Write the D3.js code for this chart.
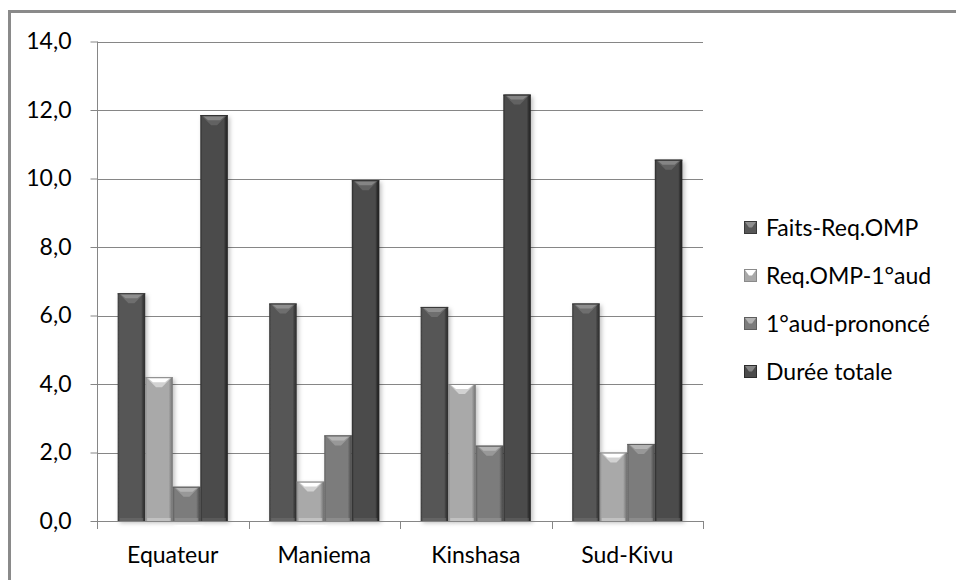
<!DOCTYPE html>
<html>
<head>
<meta charset="utf-8">
<script src="https://cdn.jsdelivr.net/npm/d3@7/dist/d3.min.js"></script>
<style>
  html, body { margin: 0; padding: 0; background: #fff; }
  svg { display: block; }
  text { font-family: Lato, "Open Sans", "Liberation Sans", sans-serif; fill: #000; }
</style>
</head>
<body>
<svg id="chart" width="956" height="580"></svg>
<script>
// Provinces on the x axis
const categories = ["Equateur", "Maniema", "Kinshasa", "Sud-Kivu"];
// Series names (legend order)
const seriesNames = ["Faits-Req.OMP", "Req.OMP-1°aud", "1°aud-prononcé", "Durée totale"];
// Values per series, one per province
const faitsReq   = [6.65, 6.35, 6.25, 6.35];
const reqAud     = [4.2, 1.15, 4.0, 2.0];
const audPron    = [1.0, 2.5, 2.2, 2.25];
const dureeTot   = [11.85, 9.95, 12.45, 10.55];
const seriesValues = [faitsReq, reqAud, audPron, dureeTot];
// Y axis ticks
const yTicks = [0, 2, 4, 6, 8, 10, 12, 14];

// Bevel palette per series: body, edge, top highlight
const palette = [
  { body: "#575757", edge: "#383838", hi: "#8e8e8e", hi2: "#6e6e6e" },
  { body: "#a9a9a9", edge: "#8a8a8a", hi: "#ffffff", hi2: "#d2d2d2" },
  { body: "#7c7c7c", edge: "#5e5e5e", hi: "#b4b4b4", hi2: "#989898" },
  { body: "#4b4b4b", edge: "#2c2c2c", hi: "#858585", hi2: "#626262" }
];

const FONT = "23px";
const svg = d3.select("#chart");
const plotL = 97, plotR = 703, plotT = 41.5, plotB = 521;

// Outer frame of the chart area
svg.append("rect")
  .attr("x", 9.5).attr("y", 11.5)
  .attr("width", 970).attr("height", 600)
  .attr("fill", "none").attr("stroke", "#8a8a8a").attr("stroke-width", 3);

const y = d3.scaleLinear().domain([0, 14]).range([plotB, plotT]);
const x0 = d3.scaleBand().domain(categories).range([plotL, plotR]).paddingInner(0).paddingOuter(0);
// Bars fill 4/(4+1.5) of each category (gap width 150%)
const groupW = x0.bandwidth() * 4 / 5.5;
const x1 = d3.scaleBand().domain(d3.range(4))
  .range([(x0.bandwidth() - groupW) / 2, (x0.bandwidth() + groupW) / 2]);

// Gridlines
svg.append("g").selectAll("line").data(yTicks.filter(d => d > 0)).join("line")
  .attr("x1", plotL).attr("x2", plotR)
  .attr("y1", d => Math.round(y(d)) + 0.5).attr("y2", d => Math.round(y(d)) + 0.5)
  .attr("stroke", "#868686").attr("stroke-width", 1);

// Y axis
const yAxis = d3.axisLeft(y).tickValues(yTicks).tickSize(7).tickPadding(19)
  .tickFormat(d => d3.format(".1f")(d).replace(".", ","));
const gy = svg.append("g").attr("transform", `translate(${plotL + 0.5},0)`).call(yAxis);
gy.select(".domain").attr("stroke", "#868686").attr("d", `M0,${y(14)}V${plotB}`);
gy.selectAll(".tick line").attr("stroke", "#868686");
gy.selectAll(".tick text").style("font-size", FONT).attr("fill", "#000");

// Drop shadow for bars
const defs = svg.append("defs");
const f = defs.append("filter").attr("id", "shadow")
  .attr("x", "-30%").attr("y", "-10%").attr("width", "160%").attr("height", "120%");
f.append("feDropShadow").attr("dx", 2).attr("dy", 2).attr("stdDeviation", 2)
  .attr("flood-color", "#000").attr("flood-opacity", 0.25);

// Horizontal gradient across each bar body (darker at edges)
palette.forEach((p, i) => {
  const g = defs.append("linearGradient").attr("id", "body" + i)
    .attr("x1", "0").attr("x2", "1").attr("y1", "0").attr("y2", "0");
  g.append("stop").attr("offset", "0").attr("stop-color", p.edge);
  g.append("stop").attr("offset", "0.08").attr("stop-color", p.body);
  g.append("stop").attr("offset", "0.85").attr("stop-color", p.body);
  g.append("stop").attr("offset", "0.93").attr("stop-color", p.edge);
  g.append("stop").attr("offset", "1").attr("stop-color", d3.color(p.edge).darker(0.6));
});

// Bars
const rows = [];
categories.forEach((c, ci) => seriesValues.forEach((vals, si) => rows.push({ c, si, v: vals[ci] })));

const bars = svg.append("g").selectAll("g").data(rows).join("g")
  .attr("transform", d => `translate(${x0(d.c) + x1(d.si)},0)`);

bars.append("rect")
  .attr("x", 0).attr("width", x1.bandwidth())
  .attr("y", d => y(d.v)).attr("height", d => plotB - y(d.v))
  .attr("fill", d => `url(#body${d.si})`)
  .attr("filter", "url(#shadow)");

// Top bevel: a light band narrowing into a V
bars.append("path")
  .attr("d", d => {
    const w = x1.bandwidth(), t = y(d.v), h = Math.min(10, plotB - t);
    return `M1,${t}H${w - 1}L${w / 2 + 3},${t + h}H${w / 2 - 3}Z`;
  })
  .attr("fill", d => palette[d.si].hi2);
bars.append("path")
  .attr("d", d => {
    const w = x1.bandwidth(), t = y(d.v), h = Math.min(5, plotB - t);
    return `M3,${t + 1}H${w - 3}L${w / 2 + 6},${t + h}H${w / 2 - 6}Z`;
  })
  .attr("fill", d => palette[d.si].hi);
// Thin dark top edge
bars.append("rect")
  .attr("x", 0).attr("width", x1.bandwidth())
  .attr("y", d => y(d.v)).attr("height", 1)
  .attr("fill", d => palette[d.si].edge);
// Subtle lighter band at the foot
bars.append("rect")
  .attr("x", 2).attr("width", x1.bandwidth() - 4)
  .attr("y", plotB - 3).attr("height", 3)
  .attr("fill", d => palette[d.si].hi2).attr("opacity", 0.6);

// X axis
const xAxis = d3.axisBottom(x0).tickSize(0).tickPadding(26);
const gx = svg.append("g").attr("transform", `translate(0,${plotB})`).call(xAxis);
gx.select(".domain").attr("stroke", "#868686").attr("d", `M${plotL},0.5H${plotR}`);
gx.selectAll(".tick text").style("font-size", FONT).attr("fill", "#000");
// Category separators below the axis
svg.append("g").selectAll("line")
  .data(categories.map(c => x0(c)).concat([plotR])).join("line")
  .attr("x1", d => Math.round(d) + 0.5).attr("x2", d => Math.round(d) + 0.5)
  .attr("y1", plotB).attr("y2", plotB + 8)
  .attr("stroke", "#868686");

// Legend
const legend = svg.append("g").attr("transform", "translate(744,228)");
const items = legend.selectAll("g").data(seriesNames).join("g")
  .attr("transform", (d, i) => `translate(0,${i * 48})`);
items.append("rect").attr("x", 0.5).attr("y", -6.5).attr("width", 12).attr("height", 12)
  .attr("fill", (d, i) => palette[i].body).attr("stroke", (d, i) => palette[i].edge).attr("stroke-width", 1);
items.append("path").attr("d", "M1,-6H12L8,-0.5H5Z").attr("fill", (d, i) => palette[i].hi);
items.append("text").attr("x", 22).attr("y", 0).attr("dy", "0.35em")
  .style("font-size", FONT).text(d => d);
</script>
</body>
</html>
